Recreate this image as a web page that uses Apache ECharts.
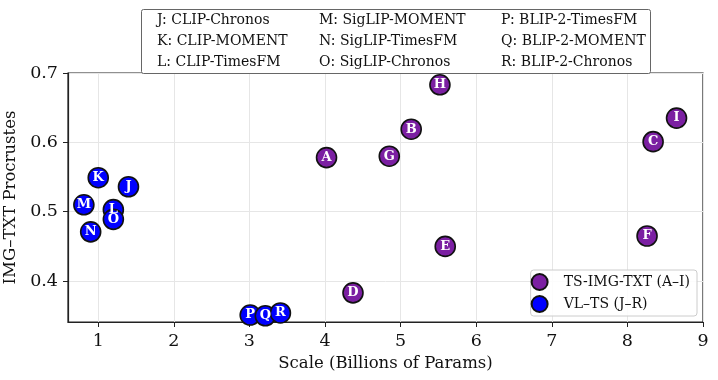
<!DOCTYPE html>
<html>
<head>
<meta charset="utf-8">
<script src="https://cdn.jsdelivr.net/npm/echarts@6/dist/echarts.min.js"></script>
<style>
  html, body { margin: 0; padding: 0; background: #fff; }
  #chart { width: 718px; height: 380px; }
</style>
</head>
<body>
<div id="chart"></div>
<script>
// TS-IMG-TXT group (A–I)
const tsLabels = ['A', 'B', 'C', 'D', 'E', 'F', 'G', 'H', 'I'];
const tsScale = [4.02, 5.14, 8.34, 4.37, 5.59, 8.26, 4.85, 5.52, 8.65];
const tsProcrustes = [0.578, 0.619, 0.601, 0.383, 0.450, 0.465, 0.580, 0.683, 0.635];

// VL-TS group (J–R)
const vlLabels = ['J', 'K', 'L', 'M', 'N', 'O', 'P', 'Q', 'R'];
const vlScale = [1.40, 1.00, 1.20, 0.81, 0.90, 1.20, 3.01, 3.21, 3.41];
const vlProcrustes = [0.536, 0.549, 0.503, 0.510, 0.471, 0.489, 0.351, 0.350, 0.354];

// key box at the top
const keyNames = [
  'J: CLIP-Chronos', 'K: CLIP-MOMENT', 'L: CLIP-TimesFM',
  'M: SigLIP-MOMENT', 'N: SigLIP-TimesFM', 'O: SigLIP-Chronos',
  'P: BLIP-2-TimesFM', 'Q: BLIP-2-MOMENT', 'R: BLIP-2-Chronos'
];

const seriesNames = ['TS-IMG-TXT (A–I)', 'VL–TS (J–R)'];
const serif = '"DejaVu Serif", serif';

const chart = echarts.init(document.getElementById('chart'));

function toPoints(xs, ys, labels) {
  return xs.map((x, i) => [x, ys[i], labels[i]]);
}

// key text elements, 3 columns x 3 rows
const keyCols = [157, 319, 501];
const keyRows = [20.5, 41, 62];
const keyTexts = keyNames.map((name, i) => ({
  type: 'text',
  x: keyCols[Math.floor(i / 3)],
  y: keyRows[i % 3],
  z: 101,
  style: {
    text: name,
    font: '14px ' + serif,
    fill: '#111',
    verticalAlign: 'middle'
  }
}));

const pointLabel = {
  show: true,
  position: 'inside',
  formatter: p => p.data[2],
  color: '#fff',
  fontFamily: serif,
  fontWeight: 'bold',
  fontSize: 13
};

const axisCommon = {
  nameLocation: 'middle',
  nameTextStyle: { fontFamily: serif, fontSize: 16.5, color: '#111' },
  axisLine: { show: true, lineStyle: { color: '#222', width: 1.2 } },
  axisTick: { show: true, length: 5, lineStyle: { color: '#222' } },
  axisLabel: { fontFamily: serif, fontSize: 17.5, color: '#111', margin: 10, showMinLabel: false },
  splitLine: { show: true, lineStyle: { color: '#e6e6e6' } }
};

const options = {
  animation: false,
  grid: {
    left: 68, right: 15, top: 73, bottom: 58,
    outerBoundsMode: 'none',
    show: true, borderColor: '#222', borderWidth: 1.2
  },
  xAxis: Object.assign({}, axisCommon, {
    type: 'value',
    min: 0.6,
    max: 9,
    splitNumber: 8,
    name: 'Scale (Billions of Params)',
    nameGap: 30
  }),
  yAxis: Object.assign({}, axisCommon, {
    type: 'value',
    min: 0.341,
    max: 0.7,
    splitNumber: 4,
    name: 'IMG–TXT Procrustes',
    nameGap: 41
  }),
  legend: {
    orient: 'vertical',
    right: 21,
    top: 270,
    icon: 'circle',
    itemWidth: 38,
    itemHeight: 16,
    itemGap: 4,
    padding: [3, 7, 3, 0],
    borderColor: '#ccc',
    borderWidth: 1,
    borderRadius: 3,
    backgroundColor: 'rgba(255,255,255,0.85)',
    textStyle: { fontFamily: serif, fontSize: 14, color: '#111' },
    data: seriesNames
  },
  graphic: [
    {
      type: 'rect',
      shape: { x: 141.5, y: 9.5, width: 509, height: 64, r: 2 },
      style: { fill: '#fff', stroke: '#666', lineWidth: 1 },
      z: 100
    }
  ].concat(keyTexts),
  series: [
    {
      name: seriesNames[0],
      type: 'scatter',
      symbolSize: 20,
      itemStyle: { color: '#7B1FA2', opacity: 1, borderColor: '#111', borderWidth: 1.6 },
      label: pointLabel,
      data: toPoints(tsScale, tsProcrustes, tsLabels)
    },
    {
      name: seriesNames[1],
      type: 'scatter',
      symbolSize: 20,
      clip: false,
      itemStyle: { color: '#0000FF', opacity: 1, borderColor: '#111', borderWidth: 1.6 },
      label: pointLabel,
      data: toPoints(vlScale, vlProcrustes, vlLabels)
    }
  ]
};

chart.setOption(options);
</script>
</body>
</html>
